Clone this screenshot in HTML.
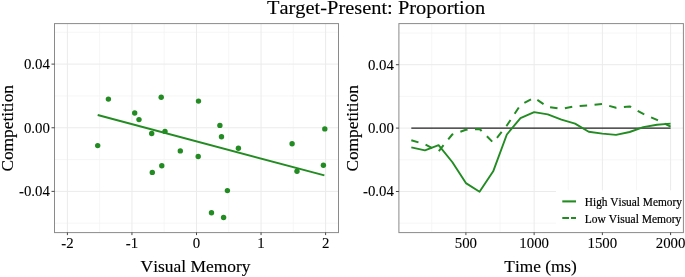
<!DOCTYPE html>
<html><head><meta charset="utf-8"><title>Target-Present: Proportion</title>
<style>html,body{margin:0;padding:0;background:#fff}svg{display:block}text{font-family:"Liberation Serif",serif;fill:#000;font-kerning:none}</style>
</head><body>
<svg width="685" height="277" viewBox="0 0 685 277">
<rect width="685" height="277" fill="#fff"/>
<rect x="54.5" y="23.6" width="284.00" height="209.0" fill="#fff"/>
<line x1="54.5" x2="338.5" y1="223.21" y2="223.21" stroke="#f4f4f4" stroke-width="0.8"/>
<line x1="54.5" x2="338.5" y1="159.57" y2="159.57" stroke="#f4f4f4" stroke-width="0.8"/>
<line x1="54.5" x2="338.5" y1="95.93" y2="95.93" stroke="#f4f4f4" stroke-width="0.8"/>
<line x1="54.5" x2="338.5" y1="32.29" y2="32.29" stroke="#f4f4f4" stroke-width="0.8"/>
<line x1="99.68" x2="99.68" y1="23.6" y2="232.6" stroke="#f4f4f4" stroke-width="0.8"/>
<line x1="164.22" x2="164.22" y1="23.6" y2="232.6" stroke="#f4f4f4" stroke-width="0.8"/>
<line x1="228.78" x2="228.78" y1="23.6" y2="232.6" stroke="#f4f4f4" stroke-width="0.8"/>
<line x1="293.32" x2="293.32" y1="23.6" y2="232.6" stroke="#f4f4f4" stroke-width="0.8"/>
<line x1="54.5" x2="338.5" y1="191.39" y2="191.39" stroke="#ebebeb" stroke-width="1"/>
<line x1="54.5" x2="338.5" y1="127.75" y2="127.75" stroke="#ebebeb" stroke-width="1"/>
<line x1="54.5" x2="338.5" y1="64.11" y2="64.11" stroke="#ebebeb" stroke-width="1"/>
<line x1="67.40" x2="67.40" y1="23.6" y2="232.6" stroke="#ebebeb" stroke-width="1"/>
<line x1="131.95" x2="131.95" y1="23.6" y2="232.6" stroke="#ebebeb" stroke-width="1"/>
<line x1="196.50" x2="196.50" y1="23.6" y2="232.6" stroke="#ebebeb" stroke-width="1"/>
<line x1="261.05" x2="261.05" y1="23.6" y2="232.6" stroke="#ebebeb" stroke-width="1"/>
<line x1="325.60" x2="325.60" y1="23.6" y2="232.6" stroke="#ebebeb" stroke-width="1"/>
<line x1="97.7" y1="115" x2="324.4" y2="175.4" stroke="#228B22" stroke-width="1.9"/>
<circle cx="97.7" cy="145.6" r="2.7" fill="#228B22"/>
<circle cx="108.4" cy="99.1" r="2.7" fill="#228B22"/>
<circle cx="134.7" cy="113" r="2.7" fill="#228B22"/>
<circle cx="139" cy="119.6" r="2.7" fill="#228B22"/>
<circle cx="161.2" cy="97.3" r="2.7" fill="#228B22"/>
<circle cx="151.7" cy="133.5" r="2.7" fill="#228B22"/>
<circle cx="165" cy="131.4" r="2.7" fill="#228B22"/>
<circle cx="198.5" cy="101.1" r="2.7" fill="#228B22"/>
<circle cx="219.9" cy="125.4" r="2.7" fill="#228B22"/>
<circle cx="221.5" cy="136.7" r="2.7" fill="#228B22"/>
<circle cx="180.3" cy="150.9" r="2.7" fill="#228B22"/>
<circle cx="198.2" cy="156.5" r="2.7" fill="#228B22"/>
<circle cx="161.8" cy="165.7" r="2.7" fill="#228B22"/>
<circle cx="152.3" cy="172.4" r="2.7" fill="#228B22"/>
<circle cx="227.4" cy="190.6" r="2.7" fill="#228B22"/>
<circle cx="211.5" cy="212.8" r="2.7" fill="#228B22"/>
<circle cx="223.6" cy="217.5" r="2.7" fill="#228B22"/>
<circle cx="238.4" cy="148.3" r="2.7" fill="#228B22"/>
<circle cx="292.1" cy="143.8" r="2.7" fill="#228B22"/>
<circle cx="324.8" cy="128.9" r="2.7" fill="#228B22"/>
<circle cx="323.4" cy="165.3" r="2.7" fill="#228B22"/>
<circle cx="297" cy="171.2" r="2.7" fill="#228B22"/>
<rect x="398.9" y="23.6" width="284.50" height="209.0" fill="#fff"/>
<line x1="398.9" x2="683.4" y1="223.20" y2="223.20" stroke="#f4f4f4" stroke-width="0.8"/>
<line x1="398.9" x2="683.4" y1="159.80" y2="159.80" stroke="#f4f4f4" stroke-width="0.8"/>
<line x1="398.9" x2="683.4" y1="96.40" y2="96.40" stroke="#f4f4f4" stroke-width="0.8"/>
<line x1="398.9" x2="683.4" y1="33.00" y2="33.00" stroke="#f4f4f4" stroke-width="0.8"/>
<line x1="431.78" x2="431.78" y1="23.6" y2="232.6" stroke="#f4f4f4" stroke-width="0.8"/>
<line x1="500.01" x2="500.01" y1="23.6" y2="232.6" stroke="#f4f4f4" stroke-width="0.8"/>
<line x1="568.25" x2="568.25" y1="23.6" y2="232.6" stroke="#f4f4f4" stroke-width="0.8"/>
<line x1="636.48" x2="636.48" y1="23.6" y2="232.6" stroke="#f4f4f4" stroke-width="0.8"/>
<line x1="398.9" x2="683.4" y1="191.50" y2="191.50" stroke="#ebebeb" stroke-width="1"/>
<line x1="398.9" x2="683.4" y1="128.10" y2="128.10" stroke="#ebebeb" stroke-width="1"/>
<line x1="398.9" x2="683.4" y1="64.70" y2="64.70" stroke="#ebebeb" stroke-width="1"/>
<line x1="465.90" x2="465.90" y1="23.6" y2="232.6" stroke="#ebebeb" stroke-width="1"/>
<line x1="534.13" x2="534.13" y1="23.6" y2="232.6" stroke="#ebebeb" stroke-width="1"/>
<line x1="602.37" x2="602.37" y1="23.6" y2="232.6" stroke="#ebebeb" stroke-width="1"/>
<line x1="670.60" x2="670.60" y1="23.6" y2="232.6" stroke="#ebebeb" stroke-width="1"/>
<line x1="411.31" x2="670.60" y1="128.1" y2="128.1" stroke="#222" stroke-width="1.15"/>
<polyline fill="none" stroke="#228B22" stroke-width="1.9" stroke-linejoin="round" points="411.31,147.4 424.95,150.4 438.60,145.2 452.25,162 465.90,183.1 479.54,191.8 493.19,171.3 506.84,134.5 520.48,118.1 534.13,112.1 547.78,114.4 561.42,119.7 575.07,123.6 588.72,131.7 602.37,133.6 616.01,134.9 629.66,132.0 643.31,127.1 656.95,124.8 670.60,123.6"/>
<polyline fill="none" stroke="#228B22" stroke-width="2.0" stroke-linejoin="round" stroke-dasharray="7.5 7.45" points="411.31,140.2 424.95,144.4 438.60,151.3 452.25,134.5 465.90,129.8 479.54,129.0 493.19,142.6 506.84,125.5 520.48,105.0 534.13,97.7 547.78,107 561.42,108.8 575.07,106.3 588.72,105.3 602.37,104 616.01,107.7 629.66,106.4 643.31,113.9 656.95,119.9 670.60,126.7"/>
<rect x="556" y="190.3" width="127" height="42" fill="#fff"/>
<line x1="562.3" x2="576" y1="201.4" y2="201.4" stroke="#228B22" stroke-width="2.1"/>
<line x1="562.3" x2="576" y1="218.1" y2="218.1" stroke="#228B22" stroke-width="2.0" stroke-dasharray="6.7 2.0 5.2"/>
<text transform="translate(584.80,205.70) scale(0.947,1)" font-size="12.0" stroke="#000" stroke-width="0.2">High Visual Memory</text>
<text transform="translate(584.80,222.70) scale(0.961,1)" font-size="12.0" stroke="#000" stroke-width="0.2">Low Visual Memory</text>
<rect x="54.5" y="23.6" width="284.00" height="209.0" fill="none" stroke="#8a8a8a" stroke-width="1"/>
<rect x="398.9" y="23.6" width="284.50" height="209.0" fill="none" stroke="#8a8a8a" stroke-width="1"/>
<line x1="51.5" x2="54.5" y1="64.11" y2="64.11" stroke="#333" stroke-width="0.9"/>
<text transform="translate(49.90,69.06) scale(1.062,1)" font-size="14.0" text-anchor="end" stroke="#000" stroke-width="0.08">0.04</text>
<line x1="51.5" x2="54.5" y1="127.75" y2="127.75" stroke="#333" stroke-width="0.9"/>
<text transform="translate(49.90,132.70) scale(1.062,1)" font-size="14.0" text-anchor="end" stroke="#000" stroke-width="0.08">0.00</text>
<line x1="51.5" x2="54.5" y1="191.39" y2="191.39" stroke="#333" stroke-width="0.9"/>
<text transform="translate(49.90,196.34) scale(1.062,1)" font-size="14.0" text-anchor="end" stroke="#000" stroke-width="0.08">-0.04</text>
<line x1="395.9" x2="398.9" y1="64.70" y2="64.70" stroke="#333" stroke-width="0.9"/>
<text transform="translate(393.90,69.65) scale(1.062,1)" font-size="14.0" text-anchor="end" stroke="#000" stroke-width="0.08">0.04</text>
<line x1="395.9" x2="398.9" y1="128.10" y2="128.10" stroke="#333" stroke-width="0.9"/>
<text transform="translate(393.90,133.05) scale(1.062,1)" font-size="14.0" text-anchor="end" stroke="#000" stroke-width="0.08">0.00</text>
<line x1="395.9" x2="398.9" y1="191.50" y2="191.50" stroke="#333" stroke-width="0.9"/>
<text transform="translate(393.90,196.45) scale(1.062,1)" font-size="14.0" text-anchor="end" stroke="#000" stroke-width="0.08">-0.04</text>
<line x1="67.40" x2="67.40" y1="232.5" y2="235.1" stroke="#333" stroke-width="0.9"/>
<text transform="translate(67.40,247.60) scale(1.062,1)" font-size="14.0" text-anchor="middle" stroke="#000" stroke-width="0.08">-2</text>
<line x1="131.95" x2="131.95" y1="232.5" y2="235.1" stroke="#333" stroke-width="0.9"/>
<text transform="translate(131.95,247.60) scale(1.062,1)" font-size="14.0" text-anchor="middle" stroke="#000" stroke-width="0.08">-1</text>
<line x1="196.50" x2="196.50" y1="232.5" y2="235.1" stroke="#333" stroke-width="0.9"/>
<text transform="translate(196.50,247.60) scale(1.062,1)" font-size="14.0" text-anchor="middle" stroke="#000" stroke-width="0.08">0</text>
<line x1="261.05" x2="261.05" y1="232.5" y2="235.1" stroke="#333" stroke-width="0.9"/>
<text transform="translate(261.05,247.60) scale(1.062,1)" font-size="14.0" text-anchor="middle" stroke="#000" stroke-width="0.08">1</text>
<line x1="325.60" x2="325.60" y1="232.5" y2="235.1" stroke="#333" stroke-width="0.9"/>
<text transform="translate(325.60,247.60) scale(1.062,1)" font-size="14.0" text-anchor="middle" stroke="#000" stroke-width="0.08">2</text>
<line x1="465.90" x2="465.90" y1="232.5" y2="235.1" stroke="#333" stroke-width="0.9"/>
<text transform="translate(465.90,247.60) scale(1.062,1)" font-size="14.0" text-anchor="middle" stroke="#000" stroke-width="0.08">500</text>
<line x1="534.13" x2="534.13" y1="232.5" y2="235.1" stroke="#333" stroke-width="0.9"/>
<text transform="translate(534.13,247.60) scale(1.062,1)" font-size="14.0" text-anchor="middle" stroke="#000" stroke-width="0.08">1000</text>
<line x1="602.37" x2="602.37" y1="232.5" y2="235.1" stroke="#333" stroke-width="0.9"/>
<text transform="translate(602.37,247.60) scale(1.062,1)" font-size="14.0" text-anchor="middle" stroke="#000" stroke-width="0.08">1500</text>
<line x1="670.60" x2="670.60" y1="232.5" y2="235.1" stroke="#333" stroke-width="0.9"/>
<text transform="translate(670.60,247.60) scale(1.062,1)" font-size="14.0" text-anchor="middle" stroke="#000" stroke-width="0.08">2000</text>
<text transform="translate(267.00,14.20) scale(1.047,1)" font-size="19.5" stroke="#000" stroke-width="0.12">Target-Present: Proportion</text>
<text transform="translate(195.50,272.00) scale(1.008,1)" font-size="17.3" text-anchor="middle" stroke="#000" stroke-width="0.15">Visual Memory</text>
<text transform="translate(540.60,271.90)" font-size="17.3" text-anchor="middle" stroke="#000" stroke-width="0.15">Time (ms)</text>
<text transform="translate(13.00,128.30) rotate(-90) scale(1.05,1)" font-size="16.5" text-anchor="middle" stroke="#000" stroke-width="0.15">Competition</text>
<text transform="translate(358.00,128.30) rotate(-90) scale(1.05,1)" font-size="16.5" text-anchor="middle" stroke="#000" stroke-width="0.15">Competition</text>
</svg></body></html>
